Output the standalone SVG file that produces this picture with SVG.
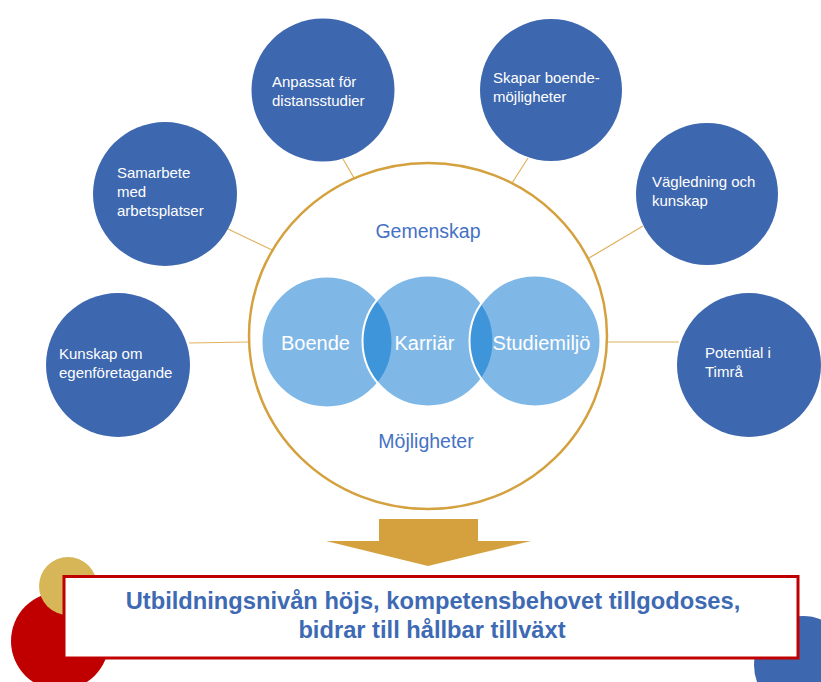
<svg xmlns="http://www.w3.org/2000/svg" width="821" height="682" viewBox="0 0 821 682">
<style>
.node{fill:#3D67AE}
.nt{font-family:"Liberation Sans",Arial,sans-serif;font-size:15px;fill:#FFFFFF}
.conn{stroke:#E0B25E;stroke-width:1.2;fill:none}
.venn{fill:#0071CD;fill-opacity:0.5;stroke:#FFFFFF;stroke-width:2}
.vt{font-family:"Liberation Sans",Arial,sans-serif;font-size:20px;fill:#FFFFFF;text-anchor:middle}
.lbl{font-family:"Liberation Sans",Arial,sans-serif;font-size:19.5px;fill:#4472C4;text-anchor:middle}
.res{font-family:"Liberation Sans",Arial,sans-serif;font-size:23.7px;font-weight:bold;fill:#3E6AB3;text-anchor:middle}
</style>
<rect width="821" height="682" fill="#FFFFFF"/>
<g id="decor">
<circle cx="60" cy="641" r="49" fill="#C00000"/>
<circle cx="68" cy="586" r="29" fill="#D6B656"/>
<circle cx="803" cy="665" r="49" fill="#3D67AE"/>
</g>
<g id="connectors">
<line class="conn" x1="189" y1="343" x2="248" y2="342"/>
<line class="conn" x1="607" y1="342" x2="679" y2="342"/>
<line class="conn" x1="228" y1="229" x2="272" y2="250"/>
<line class="conn" x1="343" y1="159" x2="354" y2="178"/>
<line class="conn" x1="528" y1="158" x2="512" y2="183"/>
<line class="conn" x1="643" y1="226" x2="589" y2="258"/>
</g>
<g id="hub">
<ellipse cx="428" cy="336" rx="179" ry="173" fill="none" stroke="#D4A13E" stroke-width="2.5"/>
<text class="lbl" x="428" y="238">Gemenskap</text>
<text class="lbl" x="426" y="448">Möjligheter</text>
</g>
<g id="venn-boende">
<circle class="venn" cx="327" cy="342" r="65.5"/>
</g>
<g id="venn-karriar">
<circle class="venn" cx="428" cy="341" r="65.5"/>
</g>
<g id="venn-studiemiljo">
<circle class="venn" cx="535" cy="341" r="65.5"/>
</g>
<g id="venn-labels">
<text class="vt" x="315.5" y="350">Boende</text>
<text class="vt" x="424.5" y="350">Karriär</text>
<text class="vt" x="541.5" y="350">Studiemiljö</text>
</g>
<g id="n-anpassat">
<circle class="node" cx="323" cy="90" r="71.5"/>
<text class="nt" x="272" y="87">Anpassat för</text>
<text class="nt" x="272" y="106">distansstudier</text>
</g>
<g id="n-skapar">
<circle class="node" cx="551" cy="90" r="71"/>
<text class="nt" x="493" y="83">Skapar boende-</text>
<text class="nt" x="493" y="102">möjligheter</text>
</g>
<g id="n-samarbete">
<circle class="node" cx="165" cy="194" r="72"/>
<text class="nt" x="117" y="178">Samarbete</text>
<text class="nt" x="117" y="197">med</text>
<text class="nt" x="117" y="216">arbetsplatser</text>
</g>
<g id="n-vagledning">
<circle class="node" cx="707" cy="194" r="71"/>
<text class="nt" x="652" y="187">Vägledning och</text>
<text class="nt" x="652" y="206">kunskap</text>
</g>
<g id="n-kunskap">
<circle class="node" cx="118" cy="365" r="72"/>
<text class="nt" x="59" y="359">Kunskap om</text>
<text class="nt" x="59" y="378">egenföretagande</text>
</g>
<g id="n-potential">
<circle class="node" cx="749" cy="365" r="72"/>
<text class="nt" x="705" y="358">Potential i</text>
<text class="nt" x="705" y="377">Timrå</text>
</g>
<g id="arrow">
<polygon points="379,519 478,519 478,541 531,541 428,566 326,541 379,541" fill="#D4A13E"/>
</g>
<g id="result">
<rect x="64" y="576.5" width="734" height="81.5" fill="#FFFFFF" stroke="#C00000" stroke-width="3"/>
<text class="res" x="433" y="609">Utbildningsnivån höjs, kompetensbehovet tillgodoses,</text>
<text class="res" x="432" y="638">bidrar till hållbar tillväxt</text>
</g>
</svg>
